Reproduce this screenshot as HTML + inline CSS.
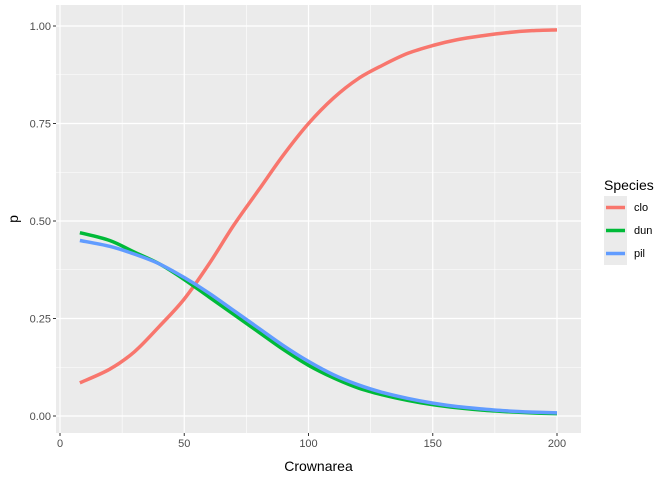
<!DOCTYPE html>
<html><head><meta charset="utf-8"><style>body{margin:0;background:#fff}svg{display:block;font-family:"Liberation Sans",Arial,sans-serif}</style></head>
<body>
<svg id="chart" width="672" height="480"></svg>
<script>
const xs=[8,20,30,40,50,60,70,80,90,100,110,120,130,140,150,160,170,180,190,200];
const clo=[0.085,0.12,0.165,0.23,0.30,0.39,0.49,0.58,0.67,0.75,0.815,0.865,0.9,0.93,0.95,0.965,0.975,0.983,0.988,0.99];
const dun=[0.47,0.45,0.42,0.39,0.35,0.305,0.26,0.215,0.17,0.13,0.098,0.072,0.054,0.04,0.029,0.021,0.015,0.011,0.008,0.006];
const pil=[0.45,0.435,0.415,0.39,0.355,0.315,0.27,0.225,0.18,0.14,0.106,0.08,0.06,0.045,0.033,0.024,0.018,0.013,0.01,0.008];
const xTicks=[0,50,100,150,200];
const yTicks=[0,0.25,0.5,0.75,1];
const yLabels=["0.00","0.25","0.50","0.75","1.00"];
const series=[["clo",clo,"#F8766D"],["dun",dun,"#00BA38"],["pil",pil,"#619CFF"]];
const NS="http://www.w3.org/2000/svg";
const svg=document.getElementById('chart');
const L=56,R=581,T=5,B=433;
const X=v=>60+v*2.485, Y=v=>416-v*390;
function mk(t,a,p){const e=document.createElementNS(NS,t);for(const k in a)e.setAttribute(k,a[k]);(p||svg).appendChild(e);return e;}
function smooth(pts){let d='M'+pts[0][0]+','+pts[0][1];for(let i=0;i<pts.length-1;i++){const p0=pts[Math.max(0,i-1)],p1=pts[i],p2=pts[i+1],p3=pts[Math.min(pts.length-1,i+2)];
const c1=[p1[0]+(p2[0]-p0[0])/6,p1[1]+(p2[1]-p0[1])/6],c2=[p2[0]-(p3[0]-p1[0])/6,p2[1]-(p3[1]-p1[1])/6];
d+=` C${c1[0]},${c1[1]} ${c2[0]},${c2[1]} ${p2[0]},${p2[1]}`;}return d;}
let e=mk('rect',{x:L,y:T,width:R-L,height:B-T,fill:'#EBEBEB'});


for(let i=0;i<xTicks.length-1;i++){const m=(xTicks[i]+xTicks[i+1])/2;e=mk('line',{x1:X(m),x2:X(m),y1:T,y2:B,stroke:'#fff','stroke-width':0.6});}
for(let i=0;i<yTicks.length-1;i++){const m=(yTicks[i]+yTicks[i+1])/2;e=mk('line',{x1:L,x2:R,y1:Y(m),y2:Y(m),stroke:'#fff','stroke-width':0.6});}
xTicks.forEach(t=>{
e=mk('line',{x1:X(t),x2:X(t),y1:T,y2:B,stroke:'#fff','stroke-width':1.2});
e=mk('line',{x1:X(t),x2:X(t),y1:B,y2:B+3,stroke:'#333','stroke-width':1});
e=mk('text',{x:X(t),y:B+14,'text-anchor':'middle','font-size':11,fill:'#4D4D4D'});e.textContent=t;});
yTicks.forEach((t,i)=>{
e=mk('line',{x1:L,x2:R,y1:Y(t),y2:Y(t),stroke:'#fff','stroke-width':1.2});
e=mk('line',{x1:L-3,x2:L,y1:Y(t),y2:Y(t),stroke:'#333','stroke-width':1});
e=mk('text',{x:L-5,y:Y(t)+4,'text-anchor':'end','font-size':11,fill:'#4D4D4D'});e.textContent=yLabels[i];});
series.forEach(s=>{
e=mk('path',{d:smooth(xs.map((x,i)=>[X(x),Y(s[1][i])])),fill:'none',stroke:s[2],'stroke-width':3.5,'stroke-linejoin':'round'});

});
e=mk('text',{x:(L+R)/2,y:471,'text-anchor':'middle','font-size':14,fill:'#000'});e.textContent='Crownarea';
e=mk('text',{x:18,y:(T+B)/2,'text-anchor':'middle','font-size':14,fill:'#000',transform:`rotate(-90 18 ${(T+B)/2})`});e.textContent='p';
e=mk('text',{x:604,y:190,'font-size':14,fill:'#000'});e.textContent='Species';
series.forEach((s,i)=>{const y=207+i*23;
e=mk('rect',{x:604,y:y-11,width:23,height:23,fill:'#EBEBEB'});
e=mk('line',{x1:606,x2:625,y1:y+0.5,y2:y+0.5,stroke:s[2],'stroke-width':3.5});
e=mk('text',{x:634,y:y+4,'font-size':11,fill:'#000'});e.textContent=s[0];});
</script>
</body></html>
